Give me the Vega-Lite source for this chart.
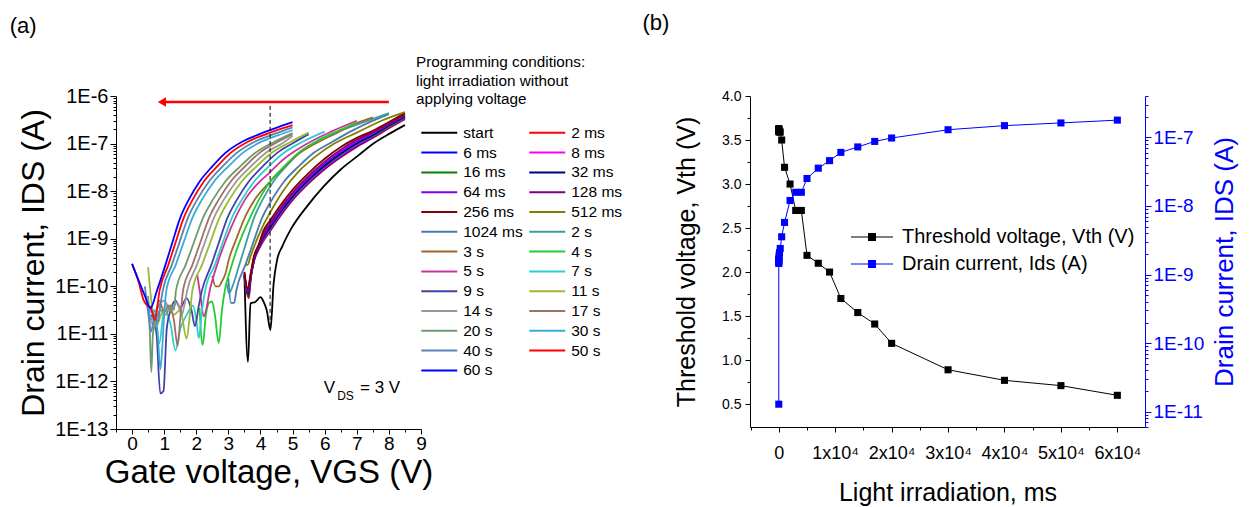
{
"$schema": "https://vega.github.io/schema/vega-lite/v6.json",
"padding": {"left": 9, "top": 12, "right": 2, "bottom": 2},
"bounds": "flush",
"spacing": 329,
"config": {
  "view": {"stroke": null},
  "font": "Liberation Sans",
  "axis": {"grid": false, "labelFont": "Liberation Sans", "titleFont": "Liberation Sans", "titleFontWeight": "normal", "domainColor": "#000", "tickColor": "#000", "labelColor": "#000", "titleColor": "#000", "labelFlush": false, "labelOverlap": false, "tickWidth": 1, "domainWidth": 1},
  "title": {"font": "Liberation Sans", "fontWeight": "normal", "anchor": "start", "frame": "bounds", "fontSize": 22, "color": "#000"}
},
"resolve": {"scale": {"color": "independent", "x": "independent", "y": "independent"}, "legend": {"color": "independent"}},
"datasets": {
"curves": [
{"c":"start","v":3.5,"i":1.74e-10},{"c":"start","v":3.61,"i":2.57e-12},{"c":"start","v":3.69,"i":4.37e-11},{"c":"start","v":3.84,"i":4.68e-11},{"c":"start","v":4.0,"i":5.89e-11},{"c":"start","v":4.1,"i":4.68e-11},{"c":"start","v":4.2,"i":3.02e-11},{"c":"start","v":4.31,"i":1.2e-11},{"c":"start","v":4.41,"i":1.15e-10},{"c":"start","v":4.52,"i":3.63e-10},{"c":"start","v":4.68,"i":6.92e-10},{"c":"start","v":4.94,"i":1.55e-9},{"c":"start","v":5.45,"i":4.79e-9},{"c":"start","v":5.97,"i":1.26e-8},{"c":"start","v":6.49,"i":2.82e-8},{"c":"start","v":7.01,"i":5.37e-8},{"c":"start","v":7.53,"i":1.02e-7},{"c":"start","v":8.05,"i":1.66e-7},{"c":"start","v":8.5,"i":2.45e-7},
{"c":"2 ms","v":3.5,"i":1.58e-10},{"c":"2 ms","v":3.64,"i":5.62e-11},{"c":"2 ms","v":3.7,"i":1.51e-10},{"c":"2 ms","v":3.8,"i":3.39e-10},{"c":"2 ms","v":3.95,"i":6.03e-10},{"c":"2 ms","v":4.1,"i":9.12e-10},{"c":"2 ms","v":4.3,"i":1.45e-9},{"c":"2 ms","v":4.6,"i":2.88e-9},{"c":"2 ms","v":5.0,"i":6.46e-9},{"c":"2 ms","v":5.5,"i":1.45e-8},{"c":"2 ms","v":6.0,"i":2.88e-8},{"c":"2 ms","v":6.5,"i":5.13e-8},{"c":"2 ms","v":7.0,"i":8.51e-8},{"c":"2 ms","v":7.5,"i":1.32e-7},{"c":"2 ms","v":8.0,"i":2.09e-7},{"c":"2 ms","v":8.5,"i":3.24e-7},
{"c":"6 ms","v":3.5,"i":1.58e-10},{"c":"6 ms","v":3.63,"i":6.31e-11},{"c":"6 ms","v":3.7,"i":1.55e-10},{"c":"6 ms","v":3.8,"i":3.47e-10},{"c":"6 ms","v":3.95,"i":6.17e-10},{"c":"6 ms","v":4.1,"i":9.55e-10},{"c":"6 ms","v":4.3,"i":1.51e-9},{"c":"6 ms","v":4.6,"i":3.02e-9},{"c":"6 ms","v":5.0,"i":6.76e-9},{"c":"6 ms","v":5.5,"i":1.51e-8},{"c":"6 ms","v":6.0,"i":3.02e-8},{"c":"6 ms","v":6.5,"i":5.37e-8},{"c":"6 ms","v":7.0,"i":8.91e-8},{"c":"6 ms","v":7.5,"i":1.35e-7},{"c":"6 ms","v":8.0,"i":2.19e-7},{"c":"6 ms","v":8.5,"i":3.39e-7},
{"c":"8 ms","v":3.5,"i":1.78e-10},{"c":"8 ms","v":3.62,"i":6.76e-11},{"c":"8 ms","v":3.7,"i":1.58e-10},{"c":"8 ms","v":3.8,"i":3.55e-10},{"c":"8 ms","v":3.95,"i":6.31e-10},{"c":"8 ms","v":4.1,"i":1.0e-9},{"c":"8 ms","v":4.3,"i":1.58e-9},{"c":"8 ms","v":4.6,"i":3.16e-9},{"c":"8 ms","v":5.0,"i":7.08e-9},{"c":"8 ms","v":5.5,"i":1.58e-8},{"c":"8 ms","v":6.0,"i":3.16e-8},{"c":"8 ms","v":6.5,"i":5.62e-8},{"c":"8 ms","v":7.0,"i":9.33e-8},{"c":"8 ms","v":7.5,"i":1.41e-7},{"c":"8 ms","v":8.0,"i":2.24e-7},{"c":"8 ms","v":8.5,"i":3.47e-7},
{"c":"16 ms","v":3.5,"i":1.66e-10},{"c":"16 ms","v":3.62,"i":6.61e-11},{"c":"16 ms","v":3.7,"i":1.62e-10},{"c":"16 ms","v":3.8,"i":3.63e-10},{"c":"16 ms","v":3.95,"i":6.46e-10},{"c":"16 ms","v":4.1,"i":1.05e-9},{"c":"16 ms","v":4.3,"i":1.66e-9},{"c":"16 ms","v":4.6,"i":3.31e-9},{"c":"16 ms","v":5.0,"i":7.41e-9},{"c":"16 ms","v":5.5,"i":1.66e-8},{"c":"16 ms","v":6.0,"i":3.31e-8},{"c":"16 ms","v":6.5,"i":5.89e-8},{"c":"16 ms","v":7.0,"i":9.77e-8},{"c":"16 ms","v":7.5,"i":1.45e-7},{"c":"16 ms","v":8.0,"i":2.29e-7},{"c":"16 ms","v":8.5,"i":3.55e-7},
{"c":"32 ms","v":3.5,"i":1.74e-10},{"c":"32 ms","v":3.62,"i":7.08e-11},{"c":"32 ms","v":3.7,"i":1.66e-10},{"c":"32 ms","v":3.8,"i":3.72e-10},{"c":"32 ms","v":3.95,"i":6.61e-10},{"c":"32 ms","v":4.1,"i":1.1e-9},{"c":"32 ms","v":4.3,"i":1.74e-9},{"c":"32 ms","v":4.6,"i":3.47e-9},{"c":"32 ms","v":5.0,"i":7.76e-9},{"c":"32 ms","v":5.5,"i":1.74e-8},{"c":"32 ms","v":6.0,"i":3.47e-8},{"c":"32 ms","v":6.5,"i":6.17e-8},{"c":"32 ms","v":7.0,"i":1.02e-7},{"c":"32 ms","v":7.5,"i":1.51e-7},{"c":"32 ms","v":8.0,"i":2.4e-7},{"c":"32 ms","v":8.5,"i":3.72e-7},
{"c":"64 ms","v":3.5,"i":1.78e-10},{"c":"64 ms","v":3.61,"i":7.59e-11},{"c":"64 ms","v":3.7,"i":1.74e-10},{"c":"64 ms","v":3.8,"i":3.89e-10},{"c":"64 ms","v":3.95,"i":6.92e-10},{"c":"64 ms","v":4.1,"i":1.2e-9},{"c":"64 ms","v":4.3,"i":1.91e-9},{"c":"64 ms","v":4.6,"i":3.8e-9},{"c":"64 ms","v":5.0,"i":8.51e-9},{"c":"64 ms","v":5.5,"i":1.91e-8},{"c":"64 ms","v":6.0,"i":3.8e-8},{"c":"64 ms","v":6.5,"i":6.76e-8},{"c":"64 ms","v":7.0,"i":1.1e-7},{"c":"64 ms","v":7.5,"i":1.62e-7},{"c":"64 ms","v":8.0,"i":2.51e-7},{"c":"64 ms","v":8.5,"i":3.89e-7},
{"c":"128 ms","v":3.5,"i":1.91e-10},{"c":"128 ms","v":3.6,"i":7.94e-11},{"c":"128 ms","v":3.7,"i":1.82e-10},{"c":"128 ms","v":3.8,"i":4.07e-10},{"c":"128 ms","v":3.95,"i":7.24e-10},{"c":"128 ms","v":4.1,"i":1.32e-9},{"c":"128 ms","v":4.3,"i":2.09e-9},{"c":"128 ms","v":4.6,"i":4.17e-9},{"c":"128 ms","v":5.0,"i":9.33e-9},{"c":"128 ms","v":5.5,"i":2.09e-8},{"c":"128 ms","v":6.0,"i":4.17e-8},{"c":"128 ms","v":6.5,"i":7.41e-8},{"c":"128 ms","v":7.0,"i":1.2e-7},{"c":"128 ms","v":7.5,"i":1.74e-7},{"c":"128 ms","v":8.0,"i":2.63e-7},{"c":"128 ms","v":8.5,"i":4.07e-7},
{"c":"256 ms","v":3.5,"i":2.0e-10},{"c":"256 ms","v":3.6,"i":8.91e-11},{"c":"256 ms","v":3.7,"i":1.95e-10},{"c":"256 ms","v":3.8,"i":4.37e-10},{"c":"256 ms","v":3.95,"i":7.76e-10},{"c":"256 ms","v":4.1,"i":1.51e-9},{"c":"256 ms","v":4.3,"i":2.4e-9},{"c":"256 ms","v":4.6,"i":4.79e-9},{"c":"256 ms","v":5.0,"i":1.07e-8},{"c":"256 ms","v":5.5,"i":2.4e-8},{"c":"256 ms","v":6.0,"i":4.79e-8},{"c":"256 ms","v":6.5,"i":8.51e-8},{"c":"256 ms","v":7.0,"i":1.32e-7},{"c":"256 ms","v":7.5,"i":1.86e-7},{"c":"256 ms","v":8.0,"i":2.82e-7},{"c":"256 ms","v":8.5,"i":4.37e-7},
{"c":"512 ms","v":3.53,"i":2.82e-10},{"c":"512 ms","v":3.6,"i":2.82e-10},{"c":"512 ms","v":3.7,"i":4.47e-10},{"c":"512 ms","v":3.9,"i":1.0e-9},{"c":"512 ms","v":4.1,"i":2.0e-9},{"c":"512 ms","v":4.3,"i":3.55e-9},{"c":"512 ms","v":4.7,"i":1.0e-8},{"c":"512 ms","v":5.2,"i":2.63e-8},{"c":"512 ms","v":5.7,"i":5.25e-8},{"c":"512 ms","v":6.3,"i":1.0e-7},{"c":"512 ms","v":7.0,"i":1.7e-7},{"c":"512 ms","v":7.7,"i":2.88e-7},{"c":"512 ms","v":8.5,"i":4.57e-7},
{"c":"1024 ms","v":3.0,"i":1.48e-10},{"c":"1024 ms","v":3.08,"i":4.47e-11},{"c":"1024 ms","v":3.18,"i":4.47e-11},{"c":"1024 ms","v":3.25,"i":8.3e-11},{"c":"1024 ms","v":3.53,"i":2.82e-10},{"c":"1024 ms","v":3.77,"i":8.13e-10},{"c":"1024 ms","v":4.05,"i":2.75e-9},{"c":"1024 ms","v":4.34,"i":6.31e-9},{"c":"1024 ms","v":4.73,"i":1.58e-8},{"c":"1024 ms","v":5.19,"i":3.31e-8},{"c":"1024 ms","v":5.65,"i":6.31e-8},{"c":"1024 ms","v":6.22,"i":1.07e-7},{"c":"1024 ms","v":6.8,"i":1.78e-7},{"c":"1024 ms","v":7.4,"i":2.82e-7},{"c":"1024 ms","v":8.0,"i":4.17e-7},
{"c":"2 s","v":2.95,"i":1.12e-10},{"c":"2 s","v":3.02,"i":7.08e-11},{"c":"2 s","v":3.08,"i":8.3e-11},{"c":"2 s","v":3.34,"i":2.82e-10},{"c":"2 s","v":3.55,"i":8.13e-10},{"c":"2 s","v":3.8,"i":2.75e-9},{"c":"2 s","v":4.05,"i":6.31e-9},{"c":"2 s","v":4.4,"i":1.58e-8},{"c":"2 s","v":4.8,"i":3.31e-8},{"c":"2 s","v":5.2,"i":6.31e-8},{"c":"2 s","v":5.7,"i":1.07e-7},{"c":"2 s","v":6.2,"i":1.58e-7},{"c":"2 s","v":7.0,"i":2.51e-7},{"c":"2 s","v":8.0,"i":4.37e-7},
{"c":"3 s","v":2.5,"i":1.66e-10},{"c":"3 s","v":2.6,"i":1.0e-10},{"c":"3 s","v":2.7,"i":1.0e-10},{"c":"3 s","v":2.8,"i":1.26e-10},{"c":"3 s","v":2.91,"i":1.86e-10},{"c":"3 s","v":3.01,"i":3.55e-10},{"c":"3 s","v":3.25,"i":1.0e-9},{"c":"3 s","v":3.55,"i":3.16e-9},{"c":"3 s","v":3.85,"i":7.08e-9},{"c":"3 s","v":4.3,"i":1.58e-8},{"c":"3 s","v":4.76,"i":3.31e-8},{"c":"3 s","v":5.22,"i":6.31e-8},{"c":"3 s","v":5.79,"i":1.07e-7},{"c":"3 s","v":6.37,"i":1.66e-7},{"c":"3 s","v":7.0,"i":2.69e-7},{"c":"3 s","v":7.5,"i":3.55e-7},
{"c":"4 s","v":2.1,"i":3.55e-11},{"c":"4 s","v":2.2,"i":5.89e-12},{"c":"4 s","v":2.3,"i":2.51e-11},{"c":"4 s","v":2.4,"i":4.47e-11},{"c":"4 s","v":2.49,"i":4.79e-11},{"c":"4 s","v":2.58,"i":2.51e-11},{"c":"4 s","v":2.7,"i":6.46e-12},{"c":"4 s","v":2.8,"i":3.16e-11},{"c":"4 s","v":2.9,"i":8.91e-11},{"c":"4 s","v":3.06,"i":2.19e-10},{"c":"4 s","v":3.22,"i":4.9e-10},{"c":"4 s","v":3.45,"i":1.26e-9},{"c":"4 s","v":3.75,"i":3.55e-9},{"c":"4 s","v":4.0,"i":7.59e-9},{"c":"4 s","v":4.3,"i":1.58e-8},{"c":"4 s","v":4.74,"i":3.31e-8},{"c":"4 s","v":5.17,"i":6.31e-8},{"c":"4 s","v":5.71,"i":1.07e-7},{"c":"4 s","v":6.25,"i":1.62e-7},{"c":"4 s","v":7.0,"i":2.75e-7},
{"c":"5 s","v":2.03,"i":1.74e-10},{"c":"5 s","v":2.13,"i":6.31e-11},{"c":"5 s","v":2.23,"i":2.34e-11},{"c":"5 s","v":2.45,"i":1.0e-10},{"c":"5 s","v":2.7,"i":3.63e-10},{"c":"5 s","v":3.1,"i":1.82e-9},{"c":"5 s","v":3.5,"i":6.31e-9},{"c":"5 s","v":3.9,"i":1.41e-8},{"c":"5 s","v":4.3,"i":2.51e-8},{"c":"5 s","v":4.6,"i":3.98e-8},{"c":"5 s","v":4.98,"i":6.31e-8},{"c":"5 s","v":5.59,"i":1.12e-7},{"c":"5 s","v":6.2,"i":1.78e-7},{"c":"5 s","v":7.0,"i":3.02e-7},
{"c":"7 s","v":0.7,"i":2.0e-11},{"c":"7 s","v":0.85,"i":6.31e-12},{"c":"7 s","v":1.0,"i":3.16e-11},{"c":"7 s","v":1.2,"i":1.58e-11},{"c":"7 s","v":1.35,"i":4.47e-12},{"c":"7 s","v":1.5,"i":1.26e-11},{"c":"7 s","v":1.7,"i":2.51e-11},{"c":"7 s","v":1.9,"i":3.98e-11},{"c":"7 s","v":2.0,"i":2.0e-11},{"c":"7 s","v":2.08,"i":8.13e-12},{"c":"7 s","v":2.18,"i":3.16e-11},{"c":"7 s","v":2.28,"i":8.3e-11},{"c":"7 s","v":2.58,"i":2.82e-10},{"c":"7 s","v":2.82,"i":8.13e-10},{"c":"7 s","v":3.11,"i":2.75e-9},{"c":"7 s","v":3.4,"i":6.31e-9},{"c":"7 s","v":3.8,"i":1.58e-8},{"c":"7 s","v":4.26,"i":3.31e-8},{"c":"7 s","v":4.72,"i":6.31e-8},{"c":"7 s","v":5.29,"i":1.07e-7},{"c":"7 s","v":6.0,"i":1.78e-7},
{"c":"9 s","v":0.6,"i":2.51e-11},{"c":"9 s","v":0.75,"i":1.26e-11},{"c":"9 s","v":0.88,"i":5.62e-13},{"c":"9 s","v":0.98,"i":6.31e-13},{"c":"9 s","v":1.08,"i":1.26e-11},{"c":"9 s","v":1.2,"i":3.16e-11},{"c":"9 s","v":1.35,"i":5.01e-11},{"c":"9 s","v":1.5,"i":3.55e-11},{"c":"9 s","v":1.7,"i":5.62e-11},{"c":"9 s","v":1.85,"i":3.16e-11},{"c":"9 s","v":1.96,"i":1.45e-11},{"c":"9 s","v":2.08,"i":3.98e-11},{"c":"9 s","v":2.18,"i":8.3e-11},{"c":"9 s","v":2.47,"i":2.82e-10},{"c":"9 s","v":2.7,"i":8.13e-10},{"c":"9 s","v":2.97,"i":2.75e-9},{"c":"9 s","v":3.25,"i":6.31e-9},{"c":"9 s","v":3.63,"i":1.58e-8},{"c":"9 s","v":4.07,"i":3.31e-8},{"c":"9 s","v":4.51,"i":6.31e-8},{"c":"9 s","v":5.06,"i":1.07e-7},{"c":"9 s","v":5.5,"i":1.58e-7},
{"c":"11 s","v":0.5,"i":2.51e-10},{"c":"11 s","v":0.6,"i":5.01e-11},{"c":"11 s","v":0.75,"i":1.41e-11},{"c":"11 s","v":0.9,"i":2.51e-11},{"c":"11 s","v":1.1,"i":3.98e-11},{"c":"11 s","v":1.3,"i":2.51e-11},{"c":"11 s","v":1.5,"i":3.16e-11},{"c":"11 s","v":1.7,"i":7.94e-12},{"c":"11 s","v":1.8,"i":2.51e-11},{"c":"11 s","v":1.88,"i":8.3e-11},{"c":"11 s","v":2.18,"i":2.82e-10},{"c":"11 s","v":2.43,"i":8.13e-10},{"c":"11 s","v":2.72,"i":2.75e-9},{"c":"11 s","v":3.01,"i":6.31e-9},{"c":"11 s","v":3.41,"i":1.58e-8},{"c":"11 s","v":3.88,"i":3.31e-8},{"c":"11 s","v":4.34,"i":6.31e-8},{"c":"11 s","v":4.92,"i":1.07e-7},{"c":"11 s","v":5.5,"i":1.7e-7},
{"c":"14 s","v":0.5,"i":3.16e-11},{"c":"14 s","v":0.65,"i":1.58e-11},{"c":"14 s","v":0.8,"i":3.55e-11},{"c":"14 s","v":1.0,"i":5.01e-11},{"c":"14 s","v":1.2,"i":3.16e-11},{"c":"14 s","v":1.4,"i":4.47e-11},{"c":"14 s","v":1.55,"i":2.51e-11},{"c":"14 s","v":1.63,"i":3.98e-11},{"c":"14 s","v":1.72,"i":8.3e-11},{"c":"14 s","v":2.02,"i":2.82e-10},{"c":"14 s","v":2.26,"i":8.13e-10},{"c":"14 s","v":2.55,"i":2.75e-9},{"c":"14 s","v":2.84,"i":6.31e-9},{"c":"14 s","v":3.24,"i":1.58e-8},{"c":"14 s","v":3.7,"i":3.31e-8},{"c":"14 s","v":4.16,"i":6.31e-8},{"c":"14 s","v":4.73,"i":1.07e-7},{"c":"14 s","v":5.0,"i":1.45e-7},
{"c":"17 s","v":0.5,"i":3.98e-11},{"c":"17 s","v":0.7,"i":2.51e-11},{"c":"17 s","v":0.85,"i":5.01e-11},{"c":"17 s","v":1.0,"i":2.82e-11},{"c":"17 s","v":1.15,"i":3.98e-11},{"c":"17 s","v":1.3,"i":2.0e-11},{"c":"17 s","v":1.42,"i":5.62e-12},{"c":"17 s","v":1.5,"i":2.0e-11},{"c":"17 s","v":1.59,"i":8.3e-11},{"c":"17 s","v":1.88,"i":2.82e-10},{"c":"17 s","v":2.12,"i":8.13e-10},{"c":"17 s","v":2.4,"i":2.75e-9},{"c":"17 s","v":2.68,"i":6.31e-9},{"c":"17 s","v":3.07,"i":1.58e-8},{"c":"17 s","v":3.52,"i":3.31e-8},{"c":"17 s","v":3.96,"i":6.31e-8},{"c":"17 s","v":4.52,"i":1.07e-7},{"c":"17 s","v":5.0,"i":1.58e-7},
{"c":"20 s","v":0.5,"i":6.31e-11},{"c":"20 s","v":0.55,"i":1.26e-11},{"c":"20 s","v":0.6,"i":1.58e-12},{"c":"20 s","v":0.65,"i":1.0e-11},{"c":"20 s","v":0.75,"i":2.0e-11},{"c":"20 s","v":0.9,"i":3.16e-11},{"c":"20 s","v":1.05,"i":2.51e-11},{"c":"20 s","v":1.2,"i":3.98e-11},{"c":"20 s","v":1.3,"i":3.16e-11},{"c":"20 s","v":1.37,"i":8.3e-11},{"c":"20 s","v":1.67,"i":2.82e-10},{"c":"20 s","v":1.92,"i":8.13e-10},{"c":"20 s","v":2.21,"i":2.75e-9},{"c":"20 s","v":2.5,"i":6.31e-9},{"c":"20 s","v":2.9,"i":1.58e-8},{"c":"20 s","v":3.37,"i":3.31e-8},{"c":"20 s","v":3.83,"i":6.31e-8},{"c":"20 s","v":4.41,"i":1.07e-7},{"c":"20 s","v":5.0,"i":1.66e-7},
{"c":"30 s","v":0.5,"i":5.01e-11},{"c":"30 s","v":0.6,"i":2.0e-11},{"c":"30 s","v":0.7,"i":3.16e-11},{"c":"30 s","v":0.8,"i":1.0e-11},{"c":"30 s","v":0.88,"i":1.78e-12},{"c":"30 s","v":0.95,"i":6.31e-12},{"c":"30 s","v":1.0,"i":2.51e-11},{"c":"30 s","v":1.07,"i":8.3e-11},{"c":"30 s","v":1.36,"i":2.82e-10},{"c":"30 s","v":1.6,"i":8.13e-10},{"c":"30 s","v":1.88,"i":2.75e-9},{"c":"30 s","v":2.16,"i":6.31e-9},{"c":"30 s","v":2.55,"i":1.58e-8},{"c":"30 s","v":3.0,"i":3.31e-8},{"c":"30 s","v":3.44,"i":6.31e-8},{"c":"30 s","v":4.0,"i":1.07e-7},{"c":"30 s","v":4.56,"i":1.51e-7},{"c":"30 s","v":5.0,"i":1.91e-7},
{"c":"40 s","v":0.4,"i":1.0e-10},{"c":"40 s","v":0.5,"i":2.82e-11},{"c":"40 s","v":0.6,"i":1.12e-11},{"c":"40 s","v":0.7,"i":2.51e-11},{"c":"40 s","v":0.8,"i":1.78e-11},{"c":"40 s","v":0.88,"i":3.98e-11},{"c":"40 s","v":0.96,"i":8.3e-11},{"c":"40 s","v":1.24,"i":2.82e-10},{"c":"40 s","v":1.47,"i":8.13e-10},{"c":"40 s","v":1.74,"i":2.75e-9},{"c":"40 s","v":2.01,"i":6.31e-9},{"c":"40 s","v":2.39,"i":1.58e-8},{"c":"40 s","v":2.82,"i":3.31e-8},{"c":"40 s","v":3.25,"i":6.31e-8},{"c":"40 s","v":3.79,"i":1.07e-7},{"c":"40 s","v":4.33,"i":1.51e-7},{"c":"40 s","v":4.87,"i":2.04e-7},{"c":"40 s","v":5.0,"i":2.19e-7},
{"c":"50 s","v":0.0,"i":2.95e-10},{"c":"50 s","v":0.2,"i":1.26e-10},{"c":"50 s","v":0.36,"i":5.13e-11},{"c":"50 s","v":0.47,"i":3.98e-11},{"c":"50 s","v":0.57,"i":3.72e-11},{"c":"50 s","v":0.71,"i":1.95e-11},{"c":"50 s","v":0.86,"i":8.3e-11},{"c":"50 s","v":1.13,"i":2.82e-10},{"c":"50 s","v":1.35,"i":8.13e-10},{"c":"50 s","v":1.61,"i":2.75e-9},{"c":"50 s","v":1.87,"i":6.31e-9},{"c":"50 s","v":2.23,"i":1.58e-8},{"c":"50 s","v":2.65,"i":3.31e-8},{"c":"50 s","v":3.06,"i":6.31e-8},{"c":"50 s","v":3.58,"i":1.07e-7},{"c":"50 s","v":4.1,"i":1.51e-7},{"c":"50 s","v":4.63,"i":2.04e-7},{"c":"50 s","v":5.0,"i":2.45e-7},
{"c":"60 s","v":0.0,"i":2.95e-10},{"c":"60 s","v":0.2,"i":1.35e-10},{"c":"60 s","v":0.4,"i":6.3e-11},{"c":"60 s","v":0.57,"i":3.47e-11},{"c":"60 s","v":0.78,"i":8.3e-11},{"c":"60 s","v":1.04,"i":2.82e-10},{"c":"60 s","v":1.25,"i":8.13e-10},{"c":"60 s","v":1.5,"i":2.75e-9},{"c":"60 s","v":1.75,"i":6.31e-9},{"c":"60 s","v":2.1,"i":1.58e-8},{"c":"60 s","v":2.5,"i":3.31e-8},{"c":"60 s","v":2.9,"i":6.31e-8},{"c":"60 s","v":3.4,"i":1.07e-7},{"c":"60 s","v":3.9,"i":1.51e-7},{"c":"60 s","v":4.4,"i":2.04e-7},{"c":"60 s","v":5.0,"i":2.82e-7}
],
"vth": [
{"t":0,"vth":3.62,"ids":1.29e-11},{"t":2,"vth":3.63,"ids":1.45e-9},{"t":6,"vth":3.62,"ids":1.51e-9},{"t":8,"vth":3.61,"ids":1.58e-9},{"t":16,"vth":3.6,"ids":1.66e-9},{"t":32,"vth":3.6,"ids":1.74e-9},{"t":64,"vth":3.59,"ids":1.91e-9},{"t":128,"vth":3.6,"ids":2.09e-9},{"t":256,"vth":3.59,"ids":2.4e-9},{"t":512,"vth":3.5,"ids":3.55e-9},{"t":1024,"vth":3.19,"ids":5.75e-9},{"t":2000,"vth":3.0,"ids":1.2e-8},{"t":3000,"vth":2.7,"ids":1.58e-8},{"t":4000,"vth":2.7,"ids":1.58e-8},{"t":5000,"vth":2.19,"ids":2.51e-8},{"t":7000,"vth":2.1,"ids":3.55e-8},{"t":9000,"vth":2.0,"ids":4.57e-8},{"t":11000,"vth":1.7,"ids":6.03e-8},{"t":14000,"vth":1.54,"ids":7.24e-8},{"t":17000,"vth":1.41,"ids":8.71e-8},{"t":20000,"vth":1.19,"ids":9.77e-8},{"t":30000,"vth":0.89,"ids":1.29e-7},{"t":40000,"vth":0.77,"ids":1.48e-7},{"t":50000,"vth":0.71,"ids":1.62e-7},{"t":60000,"vth":0.6,"ids":1.78e-7}
]
},
"hconcat": [
{
  "title": {"text": "(a)", "offset": 17, "dx": -8},
  "width": 305, "height": 333,
  "encoding": {
    "x": {"field": "v", "type": "quantitative", "scale": {"domain": [-0.5, 9], "nice": false, "zero": false},
      "axis": {"title": "Gate voltage, VGS (V)", "titleFontSize": 33, "labelFontSize": 19, "labelPadding": 0, "titlePadding": 3,
        "values": [-0.5,0,0.5,1,1.5,2,2.5,3,3.5,4,4.5,5,5.5,6,6.5,7,7.5,8,8.5,9],
        "labelExpr": "datum.value % 1 === 0 ? datum.value : ''",
        "tickSize": {"condition": {"test": "datum.value % 1 === 0", "value": 5}, "value": 3}}},
    "y": {"field": "i", "type": "quantitative", "scale": {"type": "log", "domain": [1e-13, 1e-6], "nice": false},
      "axis": {"title": "Drain current, IDS (A)", "titleFontSize": 32, "labelFontSize": 20, "labelPadding": 2, "titlePadding": 4,
        "values": [1e-13,2e-13,3e-13,4e-13,5e-13,6e-13,7e-13,8e-13,9e-13,1e-12,2e-12,3e-12,4e-12,5e-12,6e-12,7e-12,8e-12,9e-12,1e-11,2e-11,3e-11,4e-11,5e-11,6e-11,7e-11,8e-11,9e-11,1e-10,2e-10,3e-10,4e-10,5e-10,6e-10,7e-10,8e-10,9e-10,1e-9,2e-9,3e-9,4e-9,5e-9,6e-9,7e-9,8e-9,9e-9,1e-8,2e-8,3e-8,4e-8,5e-8,6e-8,7e-8,8e-8,9e-8,1e-7,2e-7,3e-7,4e-7,5e-7,6e-7,7e-7,8e-7,9e-7,1e-6],
        "labelExpr": "abs(log(datum.value)/LN10 - round(log(datum.value)/LN10)) < 0.001 ? '1E' + round(log(datum.value)/LN10) : ''",
        "tickSize": {"condition": {"test": "abs(log(datum.value)/LN10 - round(log(datum.value)/LN10)) < 0.001", "value": 6}, "value": 3}}}
  },
  "layer": [
    {"data": {"name": "curves"}, "mark": {"type": "line", "strokeWidth": 1.8, "interpolate": "monotone"},
     "encoding": {"color": {"field": "c", "type": "nominal",
       "scale": {"domain": ["start","2 ms","6 ms","8 ms","16 ms","32 ms","64 ms","128 ms","256 ms","512 ms","1024 ms","2 s","3 s","4 s","5 s","7 s","9 s","11 s","14 s","17 s","20 s","30 s","40 s","50 s","60 s"],
                 "range": ["#000000","#FF0000","#0000FF","#FF00FF","#008000","#000080","#8000FF","#800080","#800000","#808000","#4A78B0","#3AA0A0","#A0662A","#22CC33","#CC3399","#33CCCC","#4040A8","#99BB33","#999999","#A0706A","#6F9A6F","#3BAAD8","#5A82B4","#FF0000","#0000FF"]},
       "legend": {"title": ["Programming conditions:", "light irradiation without", "applying voltage"], "orient": "none", "legendX": 300, "legendY": -41, "columns": 2, "direction": "horizontal", "gridAlign": "none",
         "symbolType": "M-2.32,0L2.32,0", "symbolSize": 240, "symbolStrokeWidth": 2, "symbolOffset": 14.25, "labelOffset": 15, "columnPadding": 1, "rowPadding": 1.8,
         "labelFontSize": 15.5, "labelFont": "Liberation Sans", "labelColor": "#000", "titleFont": "Liberation Sans", "titleFontSize": 15.3, "titleFontWeight": "normal", "titleColor": "#000", "titleLineHeight": 18.5, "titlePadding": 16.5, "padding": 0, "labelLimit": 300, "titleLimit": 400}}}},
    {"data": {"values": [{"v": 4.3, "i": 6.2e-7, "i2": 1.3e-11}]}, "mark": {"type": "rule", "strokeDash": [4, 3], "color": "#000", "strokeWidth": 1}, "encoding": {"y2": {"field": "i2"}}},
    {"data": {"values": [{"v": 8.0, "v2": 0.95, "i": 7.5e-7}]}, "mark": {"type": "rule", "color": "#FF0000", "strokeWidth": 2.5}, "encoding": {"x2": {"field": "v2"}}},
    {"data": {"values": [{"v": 0.93, "i": 7.5e-7}]}, "mark": {"type": "point", "shape": "triangle-left", "filled": true, "size": 90, "color": "#FF0000", "opacity": 1}},
    {"data": {"values": [{"v": 5.97, "i": 5.75e-13, "t": "V"}, {"v": 7.1, "i": 5.75e-13, "t": "= 3 V"}]}, "mark": {"type": "text", "align": "left", "baseline": "alphabetic", "fontSize": 17, "font": "Liberation Sans", "color": "#000"}, "encoding": {"text": {"field": "t"}}},
    {"data": {"values": [{"v": 6.39, "i": 4.0e-13, "t": "DS"}]}, "mark": {"type": "text", "align": "left", "baseline": "alphabetic", "fontSize": 12, "font": "Liberation Sans", "color": "#000"}, "encoding": {"text": {"field": "t"}}}
  ]
},
{
  "title": {"text": "(b)", "offset": 52, "dx": -32},
  "width": 395, "height": 331,
  "data": {"name": "vth"},
  "encoding": {
    "x": {"field": "t", "type": "quantitative", "scale": {"domain": [-5100, 64900], "nice": false, "zero": false},
      "axis": {"title": "Light irradiation, ms", "titleFontSize": 25, "labelFontSize": 18, "labelPadding": 12, "titlePadding": 18,
        "values": [-5000,0,5000,10000,15000,20000,25000,30000,35000,40000,45000,50000,55000,60000],
        "labelExpr": "datum.value == 0 ? '0' : (datum.value > 0 && datum.value % 10000 == 0 ? (datum.value/10000) + 'x10⁴' : '')",
        "tickSize": {"condition": {"test": "datum.value % 10000 == 0", "value": 5}, "value": 3}}}
  },
  "layer": [
    {"encoding": {"y": {"field": "vth", "type": "quantitative", "scale": {"domain": [0.24, 4.0], "nice": false, "zero": false},
      "axis": {"orient": "left", "title": "Threshold voltage, Vth (V)", "titleFontSize": 25, "labelFontSize": 14, "labelPadding": 4, "titlePadding": 22,
        "values": [0.5,0.75,1,1.25,1.5,1.75,2,2.25,2.5,2.75,3,3.25,3.5,3.75,4],
        "labelExpr": "(datum.value*2) % 1 === 0 ? format(datum.value, '.1f') : ''",
        "tickSize": {"condition": {"test": "(datum.value*2) % 1 === 0", "value": 5}, "value": 3}}}},
     "layer": [
       {"mark": {"type": "line", "color": "#000", "strokeWidth": 1}},
       {"mark": {"type": "point", "shape": "square", "filled": true, "size": 50, "opacity": 1},
        "encoding": {"color": {"datum": "Threshold voltage, Vth (V)", "type": "nominal",
          "scale": {"domain": ["Threshold voltage, Vth (V)", "Drain current, Ids (A)"], "range": ["#000000", "#0000FF"]},
          "legend": {"title": null, "orient": "none", "legendX": 100, "legendY": 130, "symbolType": "M-2.1,-0.05L2.1,-0.05L2.1,0.05L-2.1,0.05ZM-0.4,-0.4L0.4,-0.4L0.4,0.4L-0.4,0.4Z", "symbolSize": 400, "symbolOffset": 11, "labelOffset": 19, "labelFontSize": 20, "labelFont": "Liberation Sans", "labelColor": "#000", "rowPadding": 6, "padding": 0, "labelLimit": 400}}}}
     ]},
    {"encoding": {"y": {"field": "ids", "type": "quantitative", "scale": {"type": "log", "domain": [6e-12, 4e-7], "nice": false},
      "axis": {"orient": "right", "title": "Drain current, IDS (A)", "titleAngle": -90, "titleBaseline": "top", "titleFontSize": 26, "labelFontSize": 19, "titlePadding": 8,
        "titleColor": "#0000FF", "labelColor": "#0000FF", "domainColor": "#0000FF", "tickColor": "#0000FF",
        "values": [6e-12,7e-12,8e-12,9e-12,1e-11,2e-11,3e-11,4e-11,5e-11,6e-11,7e-11,8e-11,9e-11,1e-10,2e-10,3e-10,4e-10,5e-10,6e-10,7e-10,8e-10,9e-10,1e-9,2e-9,3e-9,4e-9,5e-9,6e-9,7e-9,8e-9,9e-9,1e-8,2e-8,3e-8,4e-8,5e-8,6e-8,7e-8,8e-8,9e-8,1e-7,2e-7,3e-7,4e-7],
        "labelExpr": "abs(log(datum.value)/LN10 - round(log(datum.value)/LN10)) < 0.001 ? '1E' + round(log(datum.value)/LN10) : ''",
        "tickSize": {"condition": {"test": "abs(log(datum.value)/LN10 - round(log(datum.value)/LN10)) < 0.001", "value": 6}, "value": 3}}}},
     "layer": [
       {"mark": {"type": "line", "color": "#0000FF", "strokeWidth": 1}},
       {"mark": {"type": "point", "shape": "square", "filled": true, "size": 50, "opacity": 1},
        "encoding": {"color": {"datum": "Drain current, Ids (A)", "type": "nominal",
          "scale": {"domain": ["Threshold voltage, Vth (V)", "Drain current, Ids (A)"], "range": ["#000000", "#0000FF"]},
          "legend": {"title": null, "orient": "none", "legendX": 100, "legendY": 130, "symbolType": "M-2.1,-0.05L2.1,-0.05L2.1,0.05L-2.1,0.05ZM-0.4,-0.4L0.4,-0.4L0.4,0.4L-0.4,0.4Z", "symbolSize": 400, "symbolOffset": 11, "labelOffset": 19, "labelFontSize": 20, "labelFont": "Liberation Sans", "labelColor": "#000", "rowPadding": 6, "padding": 0, "labelLimit": 400}}}}
     ]}
  ],
  "resolve": {"scale": {"y": "independent"}}
}
]
}
